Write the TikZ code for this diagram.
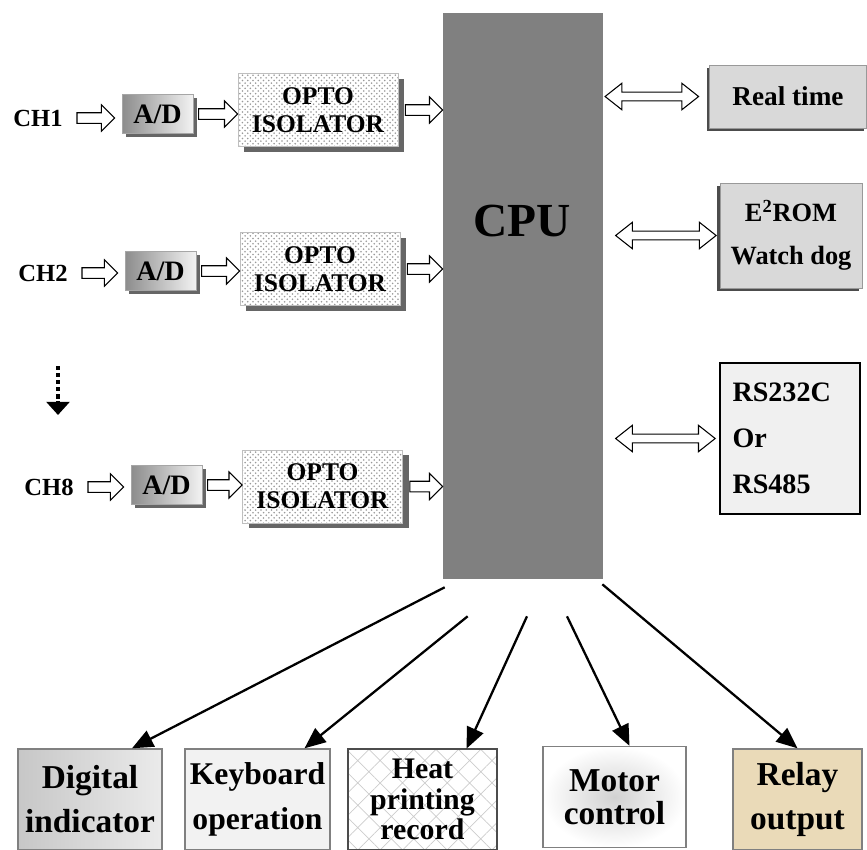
\documentclass[tikz,border=0pt]{standalone}
\usepackage{fontspec}
\setmainfont{Liberation Serif}
\usepackage{xcolor}
\usetikzlibrary{positioning, arrows.meta, shadows, patterns, patterns.meta, calc}

\definecolor{cpugray}{RGB}{128,128,128}
\definecolor{relaytan}{RGB}{234,218,184}

\begin{document}
\begin{tikzpicture}[
  x=0.02cm, y=-0.02cm,
  chan/.style={inner sep=0pt, font=\fontsize{14}{16}\selectfont\bfseries},
  ad/.style={draw=black!35, left color=black!45, right color=black!5, minimum width=1.42cm, minimum height=0.78cm,
    inner sep=0pt, font=\fontsize{16}{18}\selectfont\bfseries,
    drop shadow={shadow xshift=2pt, shadow yshift=-2pt, fill=black!60, opacity=1}},
  opto/.style={draw=black!25, pattern=crosshatch dots, pattern color=black!40,
    drop shadow={shadow xshift=3.5pt, shadow yshift=-3pt, fill=black!60, opacity=1}, preaction={fill=white},
    minimum width=3.2cm, minimum height=1.46cm, inner sep=0pt, align=center, font=\fontsize{14.5}{16}\selectfont\bfseries},
  side/.style={draw=black!40, fill=black!15, inner sep=0pt, align=center,
    drop shadow={shadow xshift=-1.5pt, shadow yshift=-1.5pt, fill=black!70, opacity=1}},
  outbox/.style={draw=black!50, line width=0.8pt, minimum height=2.02cm, inner sep=0pt, align=center,
    font=\fontsize{19}{25}\selectfont\bfseries},
  hollow/.style={draw, fill=white, line width=0.6pt, line join=miter,
    to path={let \p1=(\tikztostart), \p2=(\tikztotarget) in
      (\x1,{\y1+3pt}) -- ({\x2-7.5pt},{\y1+3pt}) -- ({\x2-7.5pt},{\y1+7.5pt}) -- (\x2,\y1)
      -- ({\x2-7.5pt},{\y1-7.5pt}) -- ({\x2-7.5pt},{\y1-3pt}) -- (\x1,{\y1-3pt}) -- cycle}},
  dhollow/.style={draw, fill=white, line width=0.6pt, line join=miter,
    to path={let \p1=(\tikztostart), \p2=(\tikztotarget) in
      (\x1,\y1) -- ({\x1+9.5pt},{\y1+7.5pt}) -- ({\x1+9.5pt},{\y1+2.5pt}) -- ({\x2-9.5pt},{\y1+2.5pt})
      -- ({\x2-9.5pt},{\y1+7.5pt}) -- (\x2,\y1) -- ({\x2-9.5pt},{\y1-7.5pt}) -- ({\x2-9.5pt},{\y1-2.5pt})
      -- ({\x1+9.5pt},{\y1-2.5pt}) -- ({\x1+9.5pt},{\y1-7.5pt}) -- cycle}},
  outarrow/.style={line width=1.3pt, -{Triangle[length=12pt, width=10pt]}},
  dotarrow/.style={line width=2.6pt, dash pattern=on 2.5pt off 1.5pt, -{Triangle[length=7.5pt, width=13pt]}}
]
\useasboundingbox (0,0) rectangle (867,850);

% CPU
\node[fill=cpugray, minimum width=3.2cm, minimum height=11.32cm, inner sep=0pt] (cpu) at (523,296) {};
\node[font=\fontsize{27}{30}\selectfont\bfseries] (cpulabel) at (522,221) {CPU};

% input channels
\node[chan] (ch1) at (38,118) {CH1};
\node[ad] (ad1) at (157.5,114) {A/D};
\node[opto] (op1) at (318,110) {OPTO\\ISOLATOR};

\node[chan] (ch2) at (43,273) {CH2};
\node[ad] (ad2) at (160.5,271) {A/D};
\node[opto] (op2) at (320,269) {OPTO\\ISOLATOR};

\node[chan] (ch8) at (49,487) {CH8};
\node[ad] (ad3) at (166.5,485) {A/D};
\node[opto] (op3) at (322.5,486.5) {OPTO\\ISOLATOR};

\draw[hollow] ([xshift=8pt]ch1.east) to ([xshift=-4pt]ad1.west);
\draw[hollow] ([xshift=3pt]ad1.east) to (op1.west);
\draw[hollow] ([xshift=4pt]op1.east) to (cpu.west |- op1.east);
\draw[hollow] ([xshift=8pt]ch2.east) to ([xshift=-4pt]ad2.west);
\draw[hollow] ([xshift=3pt]ad2.east) to (op2.west);
\draw[hollow] ([xshift=4pt]op2.east) to (cpu.west |- op2.east);
\draw[hollow] ([xshift=8pt]ch8.east) to ([xshift=-4pt]ad3.west);
\draw[hollow] ([xshift=3pt]ad3.east) to (op3.west);
\draw[hollow] ([xshift=4pt]op3.east) to (cpu.west |- op3.east);

\coordinate (dottop) at (58,366);
\coordinate (dottip) at (58,415);
\draw[dotarrow] (dottop) -- (dottip);

% peripherals
\node[side, minimum width=3.14cm, minimum height=1.26cm, font=\fontsize{15.5}{18}\selectfont\bfseries] (rtime) at (788,96.5) {Real time};
\node[side, minimum width=2.84cm, minimum height=2.1cm, font=\fontsize{15}{24.5}\selectfont\bfseries] (eeprom) at (791,235.5) {E\textsuperscript{2}ROM\\Watch dog};
\node[draw, line width=1.5pt, fill=black!6, minimum width=2.8cm, minimum height=3.02cm, inner sep=0pt,
  text width=2.3cm, align=left, font=\fontsize{16}{26}\selectfont\bfseries] (rs) at (790,438.5) {RS232C\\Or\\RS485};

\draw[dhollow] ([xshift=1pt]cpu.east |- rtime.west) to ([xshift=-6pt]rtime.west);
\draw[dhollow] ([xshift=7pt]cpu.east |- eeprom.west) to ([xshift=-2pt]eeprom.west);
\draw[dhollow] ([xshift=7pt]cpu.east |- rs.west) to ([xshift=-2pt]rs.west);

% outputs
\node[outbox, minimum width=2.88cm, left color=black!22, right color=black!8] (digital) at (90,799.5) {Digital\\indicator};
\node[outbox, minimum width=2.9cm, fill=black!5, font=\fontsize{18}{25.5}\selectfont\bfseries] (keyboard) at (257.5,799.5) {Keyboard\\operation};
\node[outbox, minimum width=2.98cm, draw=black!70, pattern={Hatch[angle=45, distance=9pt, line width=0.4pt]}, pattern color=black!20,
  font=\fontsize{17}{17.5}\selectfont\bfseries] (heat) at (422.5,799.5) {Heat\\printing\\record};
\node[outbox, minimum width=2.86cm, inner color=black!18, outer color=white, font=\fontsize{19}{18.5}\selectfont\bfseries] (motor) at (614.5,797) {Motor\\control};
\node[outbox, minimum width=2.58cm, fill=relaytan] (relay) at (797.5,799.5) {Relay\\output};

\draw[outarrow] ([shift={(2,8)}]cpu.south west) -- ([xshift=42*0.02cm]digital.north);
\draw[outarrow] ([shift={(25,37)}]cpu.south west) -- ([xshift=47*0.02cm]keyboard.north);
\draw[outarrow] ([shift={(4,37)}]cpu.south) -- ([xshift=44*0.02cm]heat.north);
\draw[outarrow] ([shift={(44,37)}]cpu.south) -- ([xshift=15*0.02cm]motor.north);
\draw[outarrow] ([shift={(-1,5)}]cpu.south east) -- (relay.north);
\end{tikzpicture}
\end{document}
